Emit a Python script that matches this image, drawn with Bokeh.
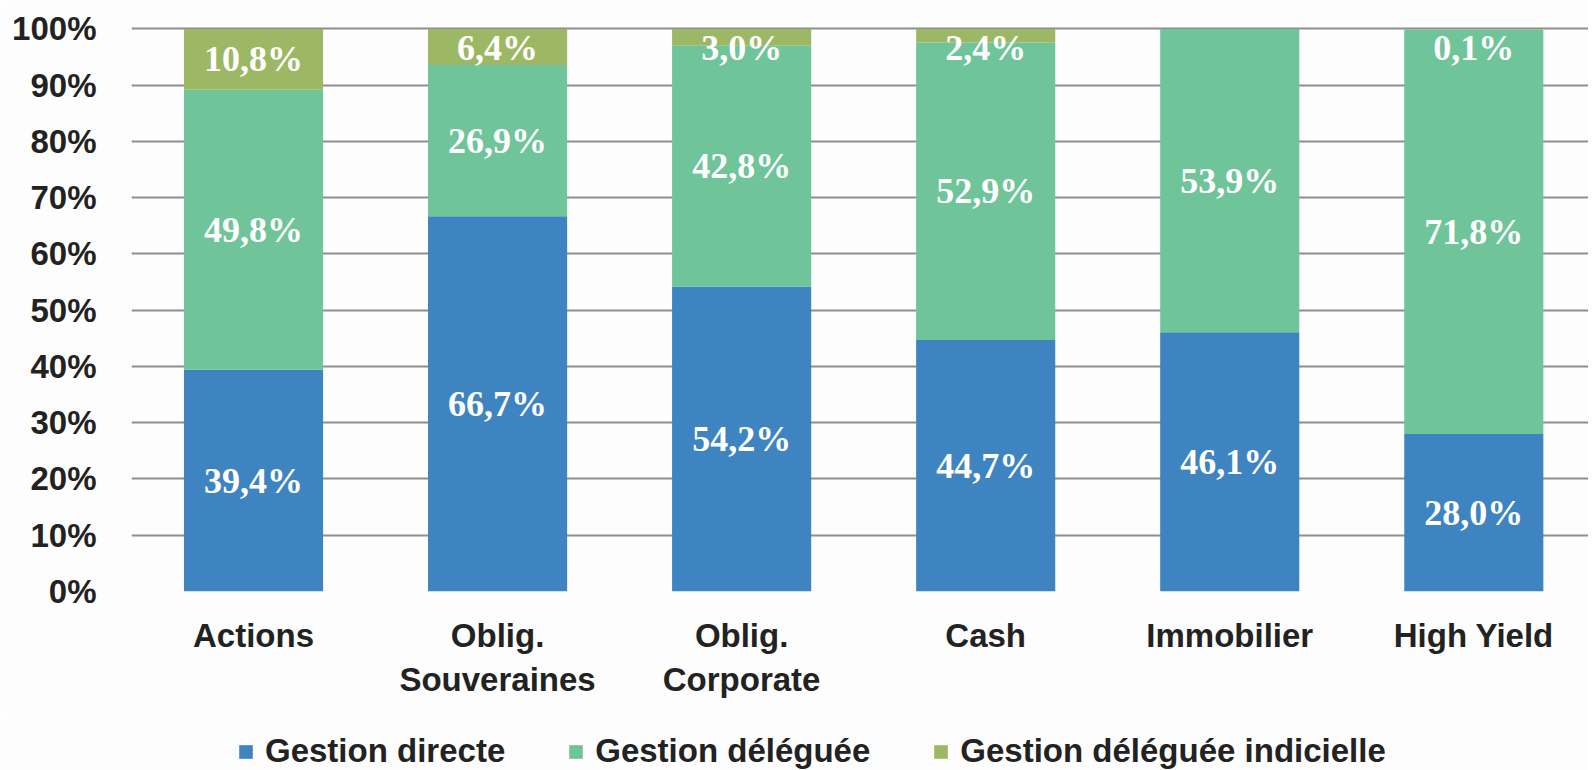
from bokeh.plotting import figure
from bokeh.models import ColumnDataSource, Legend, LegendItem, FixedTicker, Range1d
from bokeh.layouts import column
from bokeh.core.properties import value
from bokeh.embed import file_html
from bokeh.resources import INLINE

categories = ["Actions", "Oblig.\nSouveraines", "Oblig.\nCorporate", "Cash", "Immobilier", "High Yield"]
series_names = ["Gestion directe", "Gestion déléguée", "Gestion déléguée indicielle"]
directe = [39.4, 66.7, 54.2, 44.7, 46.1, 28.0]
deleguee = [49.8, 26.9, 42.8, 52.9, 53.9, 71.8]
indicielle = [10.8, 6.4, 3.0, 2.4, 0.0, 0.1]
colors = ["#3e84c1", "#6fc49a", "#9db864"]
y_ticks = [0, 10, 20, 30, 40, 50, 60, 70, 80, 90, 100]

BG = "#fdfdfd"
x = list(range(len(categories)))

p = figure(frame_width=1457, frame_height=571, output_backend="svg", toolbar_location=None,
           x_range=Range1d(-0.5, 5.47), y_range=Range1d(0, 101.5),
           min_border_left=131, min_border_right=0, min_border_top=20, min_border_bottom=127)
p.background_fill_color = BG
p.border_fill_color = BG
p.outline_line_color = None

p.xgrid.grid_line_color = None
p.ygrid.grid_line_color = "#8e8e8e"
p.ygrid.grid_line_width = 2
p.ygrid.ticker = FixedTicker(ticks=y_ticks)

p.yaxis.ticker = FixedTicker(ticks=y_ticks)
p.yaxis.major_label_overrides = {t: f"{t}%" for t in y_ticks}
p.xaxis.ticker = FixedTicker(ticks=x)
p.xaxis.major_label_overrides = {i: c for i, c in enumerate(categories)}
for ax in (p.xaxis[0], p.yaxis[0]):
    ax.axis_line_color = None
    ax.major_tick_line_color = None
    ax.minor_tick_line_color = None
    ax.major_label_text_font = "Liberation Sans"
    ax.major_label_text_font_style = "bold"
    ax.major_label_text_font_size = "33px"
    ax.major_label_text_color = "#222222"
p.yaxis.major_label_standoff = 29
p.xaxis.major_label_standoff = 19

bottoms1 = [0.0] * len(x)
tops1 = directe
bottoms2 = directe
tops2 = [a + b for a, b in zip(directe, deleguee)]
bottoms3 = tops2
tops3 = [a + b for a, b in zip(tops2, indicielle)]

for bots, tops, col in [(bottoms1, tops1, colors[0]),
                        (bottoms2, tops2, colors[1]),
                        (bottoms3, tops3, colors[2])]:
    src = ColumnDataSource(dict(x=x, bottom=bots, top=tops))
    p.vbar(x="x", width=0.57, bottom="bottom", top="top", source=src,
           fill_color=col, line_color=None)

# value labels
lx, ly, lt = [], [], []
for i in x:
    lx.append(i); ly.append(directe[i] / 2); lt.append(f"{directe[i]:.1f}%".replace(".", ","))
    lx.append(i); ly.append(directe[i] + deleguee[i] / 2); lt.append(f"{deleguee[i]:.1f}%".replace(".", ","))
    if indicielle[i] > 0:
        c = tops2[i] + indicielle[i] / 2
        lx.append(i); ly.append(min(c, 96.6)); lt.append(f"{indicielle[i]:.1f}%".replace(".", ","))
lsrc = ColumnDataSource(dict(x=lx, y=ly, t=lt))
p.text(x="x", y="y", text="t", source=lsrc, text_align="center", text_baseline="middle",
       text_color="white", text_font=value("Liberation Serif"), text_font_style="bold",
       text_font_size="36px")

# legend figure (its frame is aligned with the main frame by the column layout)
lf = figure(frame_width=1457, frame_height=52, output_backend="svg", toolbar_location=None,
            x_range=Range1d(0, 1), y_range=Range1d(0, 1),
            min_border_left=131, min_border_right=0, min_border_top=0, min_border_bottom=0)
lf.axis.visible = False
lf.grid.visible = False
lf.outline_line_color = None
lf.background_fill_color = BG
lf.border_fill_color = BG
lrs = []
for col in colors:
    lrs.append(lf.vbar(x=[5], top=[5], bottom=[4], width=0.1, fill_color=col, line_color=None))

legend = Legend(items=[LegendItem(label=n, renderers=[r]) for n, r in zip(series_names, lrs)],
                orientation="horizontal", location=(106, 0))
legend.label_text_font = "Liberation Sans"
legend.label_text_font_style = "bold"
legend.label_text_font_size = "33px"
legend.label_text_color = "#222222"
legend.glyph_width = 17
legend.glyph_height = 17
legend.label_standoff = 11
legend.spacing = 62
legend.padding = 0
legend.margin = 0
legend.border_line_color = None
legend.background_fill_alpha = 0
lf.add_layout(legend, "center")

layout = column(p, lf, spacing=0)
open("out.html", "w").write(file_html(layout, INLINE))
